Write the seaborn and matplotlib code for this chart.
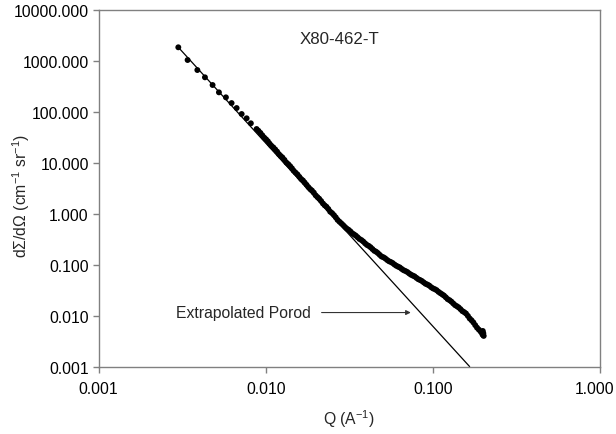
import matplotlib
matplotlib.use("Agg")
import matplotlib.pyplot as plt
import matplotlib.transforms as mtransforms
import seaborn as sns
import pandas as pd
from matplotlib.ticker import FixedLocator, FuncFormatter, NullLocator

# ---- data ----
q_data = [0.0030, 0.00341, 0.00390, 0.00433, 0.00481, 0.00525, 0.00578, 0.00625,
          0.00670, 0.00718, 0.00769, 0.00815, 0.00882,
          0.0093, 0.0098, 0.0103, 0.0108, 0.0114, 0.0120, 0.0126, 0.0133, 0.0140,
          0.0147, 0.0155, 0.0163, 0.0171, 0.0180, 0.0189, 0.0199, 0.0209, 0.0220,
          0.0231, 0.0243, 0.0256, 0.0269, 0.0283, 0.0298, 0.0313, 0.0329, 0.0346,
          0.0364, 0.0383, 0.0403, 0.0424, 0.0446, 0.0469, 0.0493, 0.0519, 0.0546,
          0.0574, 0.0604, 0.0635, 0.0668, 0.0703, 0.0739, 0.0777, 0.0818, 0.0860,
          0.0905, 0.0952, 0.1001, 0.1053, 0.1108, 0.1165, 0.1226, 0.1290, 0.1357,
          0.1427, 0.1501, 0.1579, 0.1661, 0.1748, 0.1838, 0.1934, 0.1980, 0.2000,
          0.2015]
i_data = [1853, 1043, 663, 477, 337, 242, 193, 149,
          119, 90.8, 74.8, 59.7, 46.1,
          38.6, 31.2, 26.5, 21.7, 18.3, 14.8, 12.7, 10.1, 8.6,
          7.0, 5.9, 4.8, 4.1, 3.33, 2.86, 2.30, 1.97, 1.59,
          1.37, 1.10, 0.94, 0.76, 0.65, 0.55, 0.485, 0.415, 0.372,
          0.320, 0.286, 0.245, 0.220, 0.188, 0.169, 0.145, 0.133, 0.117,
          0.108, 0.0955, 0.0882, 0.0780, 0.0720, 0.0638, 0.0590, 0.0519, 0.0478,
          0.0422, 0.0389, 0.0343, 0.0316, 0.0277, 0.0248, 0.0211, 0.0189, 0.0161,
          0.0145, 0.0123, 0.0110, 0.00880, 0.00735, 0.00580, 0.00485, 0.00430, 0.00415,
          0.00400]

# additional (interleaved) points of the dense part of the curve
q_data2 = [0.00905, 0.00955, 0.01005, 0.01055, 0.0111, 0.0117, 0.0123, 0.01295,
           0.01365, 0.01435, 0.0151, 0.0159, 0.0167, 0.01755, 0.01845, 0.0194,
           0.0204, 0.02145, 0.02255, 0.0237, 0.02495, 0.02625, 0.0276, 0.02905,
           0.03055, 0.0321, 0.03375, 0.0355, 0.03735, 0.0393, 0.04135, 0.0435,
           0.04575, 0.0481, 0.0506, 0.05325, 0.0560, 0.0589, 0.06195, 0.06515,
           0.06855, 0.0721, 0.0758, 0.07975, 0.0839, 0.08825, 0.09285, 0.09765,
           0.1027, 0.1080, 0.11365, 0.11955, 0.1258, 0.13235, 0.1392, 0.1464,
           0.1540, 0.1620, 0.17045, 0.1793, 0.1886, 0.1960, 0.1990, 0.2005]
i_data2 = [42.5, 34.6, 28.9, 23.8, 20.1, 16.6, 13.6, 11.4,
           9.4, 7.8, 6.4, 5.3, 4.5, 3.7, 3.05, 2.60,
           2.12, 1.78, 1.46, 1.24, 1.03, 0.85, 0.70, 0.60,
           0.51, 0.452, 0.393, 0.345, 0.305, 0.263, 0.234, 0.203,
           0.180, 0.156, 0.140, 0.124, 0.113, 0.101, 0.0915, 0.0825,
           0.0752, 0.0675, 0.0612, 0.0552, 0.0500, 0.0448, 0.0407, 0.0362,
           0.0331, 0.0294, 0.0262, 0.0229, 0.0201, 0.0174, 0.0153, 0.0134,
           0.0117, 0.0099, 0.0081, 0.0065, 0.0053, 0.0047, 0.0050, 0.0045]

porod_q = [0.0030, 0.166]
porod_i = [1853, 0.001]

x_ticks = [0.001, 0.01, 0.1, 1.0]
y_ticks = [0.001, 0.01, 0.1, 1, 10, 100, 1000, 10000]

title_text = "X80-462-T"
annot_text = "Extrapolated Porod"

# ---- plotting ----
sns.set_theme(style="white")
plt.rcParams["font.family"] = ["Liberation Sans", "DejaVu Sans"]
plt.rcParams["mathtext.fontset"] = "custom"
plt.rcParams["mathtext.rm"] = "Liberation Sans"
plt.rcParams["mathtext.it"] = "Liberation Sans"

fig = plt.figure(figsize=(6.16, 4.35), dpi=100)
ax = fig.add_axes([0.16, 0.155, 0.814, 0.8197])
ax.set_xscale("log")
ax.set_yscale("log")

df = pd.DataFrame({"Q": q_data + q_data2, "I": i_data + i_data2})
dfl = pd.DataFrame({"Q": porod_q, "I": porod_i})

sns.lineplot(data=dfl, x="Q", y="I", ax=ax, color="black", lw=0.9,
             estimator=None, sort=False)
sns.scatterplot(data=df, x="Q", y="I", ax=ax, color="black", s=18,
                edgecolor="none", zorder=3)

ax.set_xlim(0.001, 1.0)
ax.set_ylim(0.001, 10000)

ax.xaxis.set_major_locator(FixedLocator(x_ticks))
ax.yaxis.set_major_locator(FixedLocator(y_ticks))
ax.xaxis.set_minor_locator(NullLocator())
ax.yaxis.set_minor_locator(NullLocator())
fmt = FuncFormatter(lambda v, p: f"{v:.3f}")
ax.xaxis.set_major_formatter(fmt)
ax.yaxis.set_major_formatter(fmt)

ax.tick_params(axis="both", which="major", direction="out", length=4,
               width=1, color="#808080", labelsize=11.3, labelcolor="black",
               bottom=True, left=True)
ax.tick_params(axis="x", pad=6.5)
ax.tick_params(axis="y", pad=3)
for s in ax.spines.values():
    s.set_color("#808080")
    s.set_linewidth(1.0)
    s.set_visible(True)

ax.set_xlabel("Q (A$^{-1}$)", fontsize=11.3)
ax.set_ylabel("dΣ/dΩ (cm$^{-1}$ sr$^{-1}$)", fontsize=11.3)
ax.xaxis.set_label_coords(0.5, -0.113)
ax.yaxis.set_label_coords(-0.133, 0.481)

ax.text(0.4815, 0.919, title_text, transform=ax.transAxes, fontsize=12.2,
        ha="center", va="center")

ax.text(0.0029, 0.0115, annot_text, fontsize=11.3, ha="left", va="center")
ax.annotate("", xy=(0.0738, 0.0115), xytext=(0.0216, 0.0115),
            arrowprops=dict(arrowstyle="-|>", color="#333333", lw=0.8,
                            mutation_scale=7, shrinkA=0, shrinkB=0))

fig.canvas.draw()
last = ax.get_xticklabels()[-1]
last.set_transform(last.get_transform() +
                   mtransforms.ScaledTranslation(-4 / 72, 0, fig.dpi_scale_trans))

fig.savefig("out.png", dpi=100)
